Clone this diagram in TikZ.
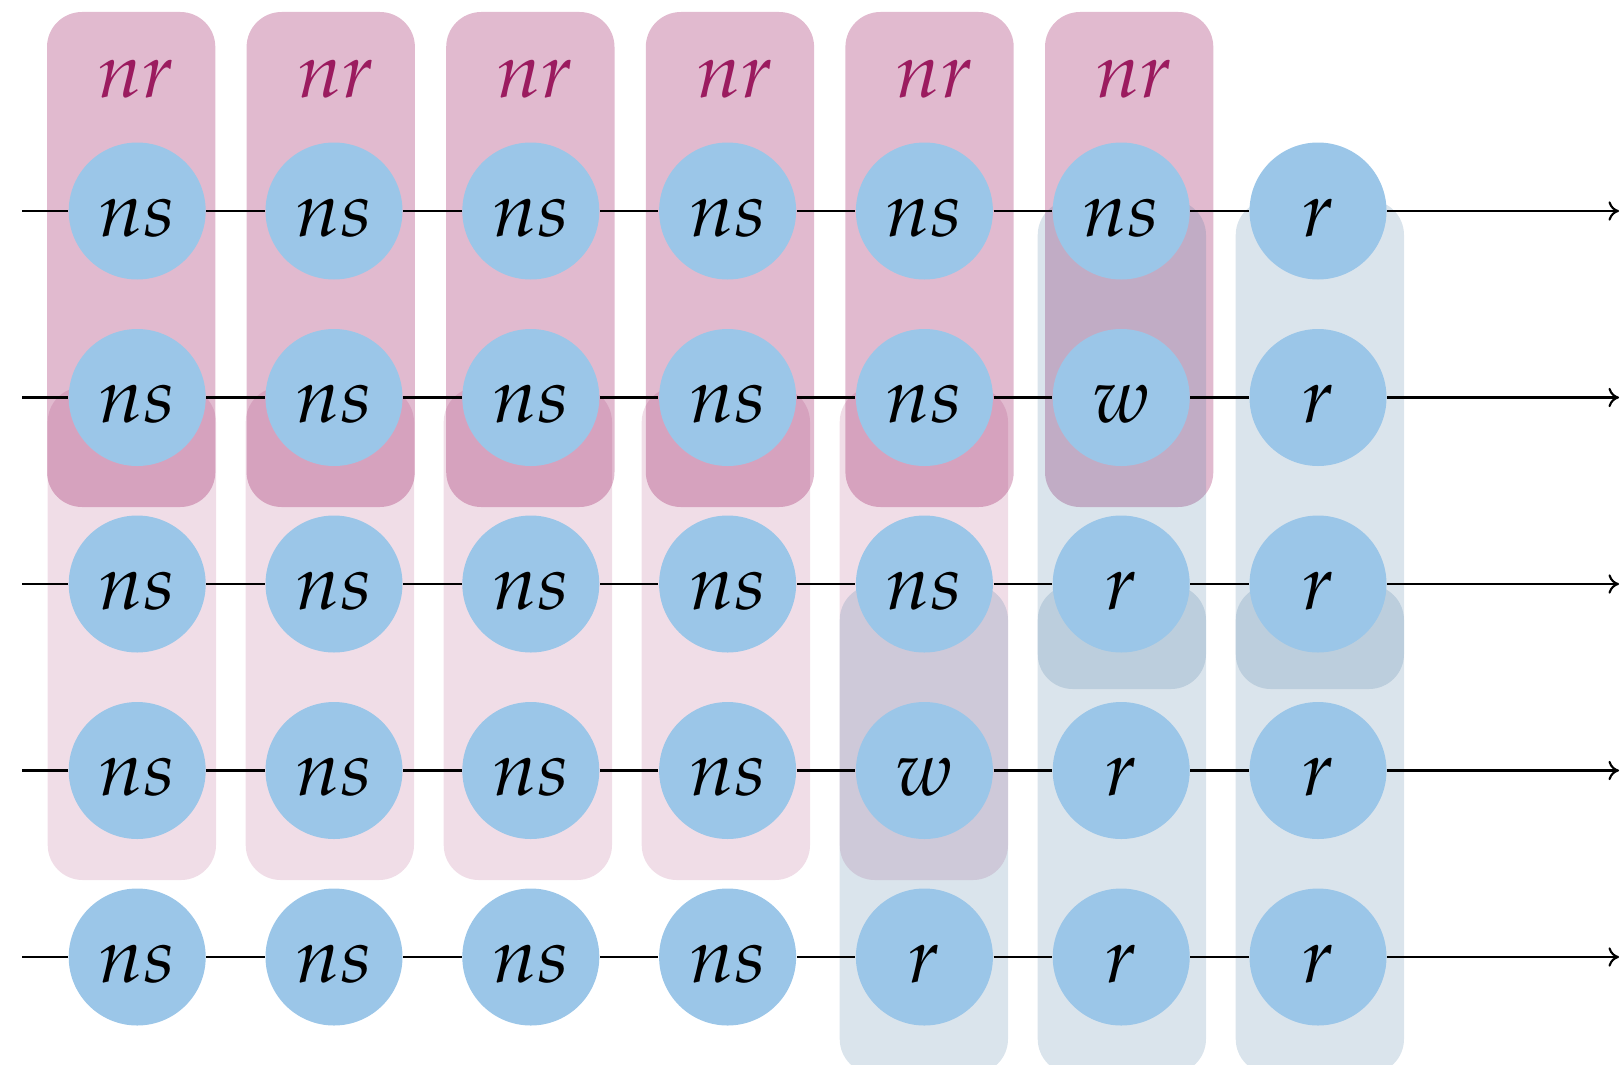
\documentclass[tikz,border=0pt]{standalone}
\usepackage{mathpazo}
\usepackage{tikz}
\usetikzlibrary{arrows.meta, positioning, calc}
\definecolor{nrpink}{HTML}{9B1B5F}
\definecolor{rblue}{HTML}{4678A0}
\definecolor{cellblue}{HTML}{9BC6E8}

\begin{document}
\begin{tikzpicture}[
    cell/.style={circle, fill=cellblue, minimum size=1.37cm, inner sep=0pt,
        text height=0.5cm, text depth=0pt, font=\fontsize{22}{26}\selectfont},
    wire/.style={semithick, black},
    nrtop/.style={fill=nrpink, opacity=0.3, rounded corners=0.35cm},
    nrlow/.style={fill=nrpink, opacity=0.15, rounded corners=0.35cm},
    rbox/.style={fill=rblue, opacity=0.2, rounded corners=0.35cm}
]
    \useasboundingbox (0,0) rectangle (16.2,10.64);

    % Groups behind the cells
    \foreach \i in {0,...,5} {
        \fill[nrtop] ({0.47+1.996*\i},5.57) rectangle ++(1.683,4.95);
        \node[text=nrpink, anchor=base, font=\fontsize{22}{26}\selectfont]
            (nr\i) at ({0.47+1.996*\i+0.89},9.67) {$nr$};
    }
    \foreach \i in {0,...,4}
        \fill[nrlow] ({0.477+1.98*\i},1.84) rectangle ++(1.683,4.93);
    \foreach \i in {5,6}
        \fill[rbox] ({0.477+1.98*\i},3.75) rectangle ++(1.683,4.89);
    \foreach \i in {4,5,6}
        \fill[rbox] ({0.477+1.98*\i},-0.10) rectangle ++(1.683,4.89);

    % Cells, one row at a time
    \foreach \r/\y/\labs in {a/8.53/{ns,ns,ns,ns,ns,ns,r},
                             b/6.665/{ns,ns,ns,ns,ns,w,r},
                             c/4.80/{ns,ns,ns,ns,ns,r,r},
                             d/2.935/{ns,ns,ns,ns,w,r,r},
                             e/1.07/{ns,ns,ns,ns,r,r,r}} {
        \foreach \lab [count=\j] in \labs
            \node[cell] (\r\j) at ({1.372+1.968*(\j-1)},\y) {$\lab$};
        \coordinate (\r0) at (0.22,\y);
        \coordinate (\r8) at (16.19,\y);
        \draw[wire, -{To[length=3pt, width=5.5pt]}] (\r0) -- (\r1) -- (\r2)
            -- (\r3) -- (\r4) -- (\r5) -- (\r6) -- (\r7) -- (\r8);
    }
\end{tikzpicture}
\end{document}
